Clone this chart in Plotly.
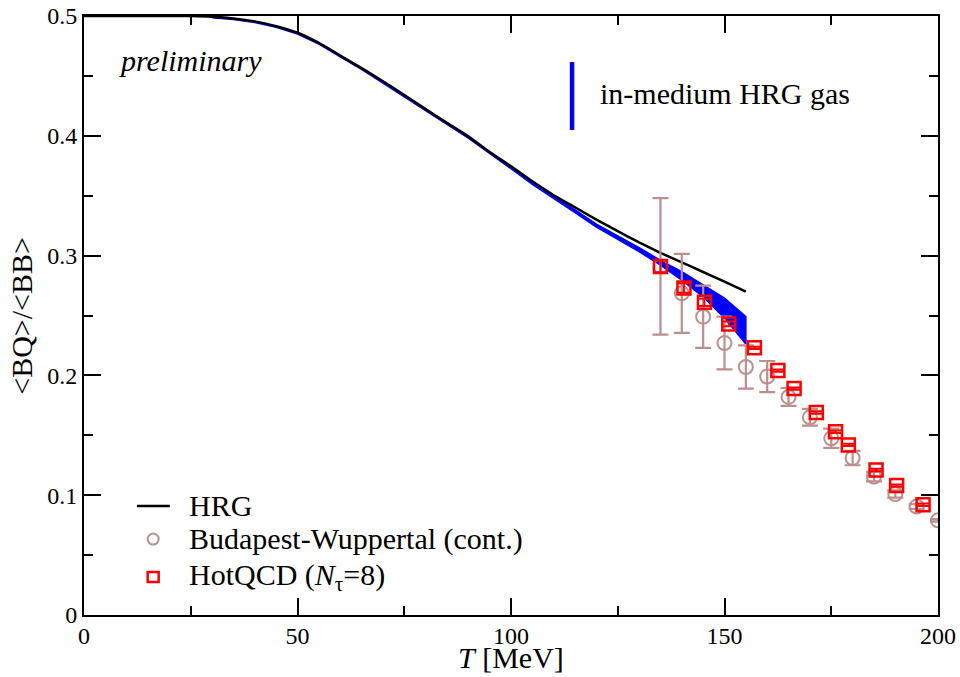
import plotly.graph_objects as go

# HRG curve
hrg_T = [0, 10, 20, 25, 30, 35, 40, 45, 50, 55, 60, 65, 70, 75, 80, 85, 90, 95,
         100, 105, 110, 115, 120, 125, 130, 135, 140, 145, 150, 155]
hrg_y = [0.5, 0.5, 0.5, 0.4999, 0.4994, 0.498, 0.4955, 0.4915, 0.486, 0.4775, 0.467,
         0.4565, 0.4455, 0.4340, 0.4223, 0.4108, 0.3995, 0.3865, 0.3745, 0.362, 0.3504,
         0.3403, 0.33, 0.3204, 0.311, 0.3023, 0.2943, 0.2863, 0.2783, 0.270]

# in-medium HRG band
band_T = [30, 35, 40, 45, 50, 55, 60, 65, 70, 75, 80, 85, 90, 95, 100, 105, 110,
          115, 120, 125, 130, 135, 140, 145, 150, 155]
band_lo = [0.4985, 0.4970, 0.4945, 0.4905, 0.4850, 0.4765, 0.4660, 0.4555, 0.4445,
           0.4330, 0.4210, 0.4095, 0.3980, 0.3850, 0.3725, 0.3595, 0.3478, 0.3358,
           0.3238, 0.3135, 0.3033, 0.2920, 0.2795, 0.2655, 0.2479, 0.2262]
band_hi = [0.4995, 0.4980, 0.4955, 0.4915, 0.4860, 0.4775, 0.4670, 0.4565, 0.4455,
           0.4340, 0.4220, 0.4105, 0.3990, 0.3862, 0.3740, 0.3615, 0.3500, 0.3382,
           0.3262, 0.3165, 0.3067, 0.2960, 0.2865, 0.2755, 0.2646, 0.2490]

# Budapest-Wuppertal (continuum)
bw_T = [135, 140, 145, 150, 155, 160, 165, 170, 175, 180, 185, 190, 195, 200]
bw_y = [0.291, 0.2685, 0.249, 0.227, 0.207, 0.199, 0.182, 0.165, 0.1475, 0.131,
        0.1155, 0.101, 0.0905, 0.079]
bw_err = [0.057, 0.033, 0.026, 0.022, 0.018, 0.013, 0.0075, 0.007, 0.008, 0.006,
          0.004, 0.003, 0.002, 0.001]

# HotQCD Ntau=8
hq_T = [135, 140.5, 145.3, 151, 157, 162.5, 166.3, 171.5, 176, 179, 185.5, 190.3, 196.5]
hq_y = [0.291, 0.273, 0.261, 0.243, 0.223, 0.204, 0.189, 0.169, 0.153, 0.142,
        0.121, 0.108, 0.092]
hq_err = [0.005, 0.004, 0.003, 0.002, 0.001, 0.001, 0.001, 0.001, 0.001, 0.001,
          0.001, 0.001, 0.001]

x_ticks = [0, 50, 100, 150, 200]
y_ticks = [0, 0.1, 0.2, 0.3, 0.4, 0.5]
y_ticklabels = ["0", "0.1", "0.2", "0.3", "0.4", "0.5"]

legend_labels = ["HRG", "Budapest-Wuppertal (cont.)", "HotQCD (<i>N</i><sub>τ</sub>=8)"]

FONT = "Liberation Serif"
BW_COLOR = "#bc8f8f"
TXT = 30

fig = go.Figure()

fig.add_trace(go.Scatter(
    x=band_T + band_T[::-1], y=band_hi + band_lo[::-1],
    fill="toself", fillcolor="#0000ff", mode="lines",
    line=dict(color="#0000ff", width=1.5), showlegend=False, hoverinfo="skip",
    name="in-medium HRG gas"))

fig.add_trace(go.Scatter(
    x=hrg_T, y=hrg_y, mode="lines", name=legend_labels[0],
    line=dict(color="black", width=2.5, shape="spline", smoothing=0.5), showlegend=False))

fig.add_trace(go.Scatter(
    x=bw_T, y=bw_y, mode="markers", name=legend_labels[1],
    marker=dict(symbol="circle-open", size=14, color=BW_COLOR, line=dict(width=2)),
    error_y=dict(type="data", array=bw_err, color=BW_COLOR, thickness=2.2, width=8),
    showlegend=False))

fig.add_trace(go.Scatter(
    x=hq_T, y=hq_y, mode="markers", name=legend_labels[2],
    marker=dict(symbol="square-open", size=13, color="#ff0000", line=dict(width=2.5)),
    error_y=dict(type="data", array=hq_err, color="#ff0000", thickness=2, width=7),
    showlegend=False))

# ---- legend (drawn as key shapes + text) ----
leg_y = [0.091, 0.0634, 0.0317]
leg_xkey = 16.2
leg_xtxt = 24.2
fig.add_shape(type="line", x0=12.4, x1=20.1, y0=leg_y[0], y1=leg_y[0],
              line=dict(color="black", width=2.5))
fig.add_shape(type="circle", xref="x", yref="y", xsizemode="pixel", ysizemode="pixel",
              xanchor=leg_xkey, yanchor=leg_y[1], x0=-5.5, x1=5.5, y0=-5.5, y1=5.5,
              line=dict(color=BW_COLOR, width=2))
fig.add_shape(type="rect", xref="x", yref="y", xsizemode="pixel", ysizemode="pixel",
              xanchor=leg_xkey, yanchor=leg_y[2], x0=-5.5, x1=5.5, y0=-5, y1=5,
              line=dict(color="#ff0000", width=2.5))
for lab, yy in zip(legend_labels, leg_y):
    fig.add_annotation(x=leg_xtxt, y=yy, xref="x", yref="y", text=lab,
                       showarrow=False, xanchor="left", yanchor="middle",
                       font=dict(family=FONT, size=TXT, color="black"))

# in-medium HRG key
fig.add_shape(type="line", x0=114.3, x1=114.3, y0=0.4048, y1=0.4616,
              xref="x", yref="y", line=dict(color="#0000ff", width=4.5))
fig.add_annotation(x=120.4, y=0.4357, xref="x", yref="y", text="in-medium HRG gas",
                   showarrow=False, xanchor="left", yanchor="middle",
                   font=dict(family=FONT, size=TXT, color="black"))
fig.add_annotation(x=7.7, y=0.463, xref="x", yref="y", text="<i>preliminary</i>",
                   showarrow=False, xanchor="left", yanchor="middle",
                   font=dict(family=FONT, size=TXT, color="black"))

# axis titles
fig.add_annotation(x=0.5, y=-0.0705, xref="paper", yref="paper", text="<i>T</i> [MeV]",
                   showarrow=False, xanchor="center", yanchor="middle",
                   font=dict(family=FONT, size=TXT, color="black"))
fig.add_annotation(x=-0.0735, y=0.5, xref="paper", yref="paper", text="&lt;BQ&gt;/&lt;BB&gt;",
                   showarrow=False, xanchor="center", yanchor="middle", textangle=-90,
                   font=dict(family=FONT, size=TXT, color="black"))

axis_common = dict(
    showline=True, linewidth=2, linecolor="black", mirror="ticks",
    ticks="inside", ticklen=17, tickwidth=1.5, tickcolor="black",
    showgrid=False, zeroline=False, automargin=False, ticklabeloverflow="allow",
    tickfont=dict(family=FONT, size=24, color="black"),
)

fig.update_xaxes(range=[0, 200], tickvals=x_ticks, ticklabelstandoff=-2,
                 minor=dict(ticks="inside", ticklen=9, tickwidth=1.5, tickcolor="black", dtick=25, tick0=0),
                 **axis_common)
fig.update_yaxes(range=[0, 0.5], tickvals=y_ticks, ticktext=y_ticklabels,
                 minor=dict(ticks="inside", ticklen=9, tickwidth=1.5, tickcolor="black", dtick=0.05, tick0=0),
                 **axis_common)

fig.update_layout(
    width=960, height=677,
    margin=dict(l=84, r=22, t=16, b=62),
    paper_bgcolor="white", plot_bgcolor="white",
    font=dict(family=FONT, color="black"),
    showlegend=False,
)

# remove the default 8px page margin so the figure fills the window exactly
fig.write_html("out.html", config={"displayModeBar": False},
               post_script="document.body.style.margin='0';document.body.style.overflow='hidden';")
